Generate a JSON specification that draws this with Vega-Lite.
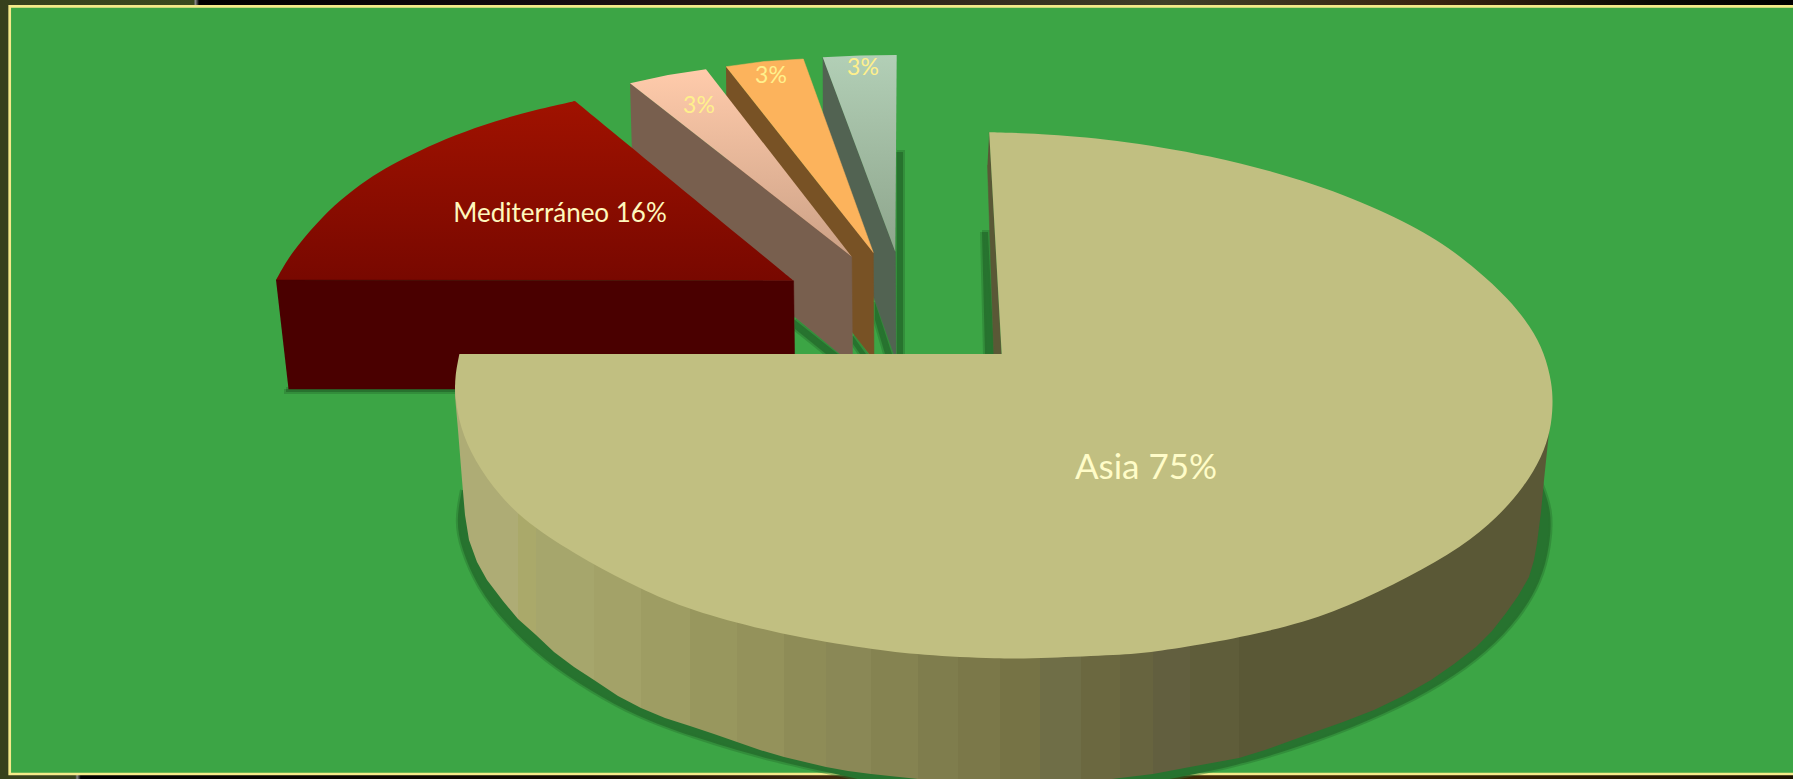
{"$schema":"https://vega.github.io/schema/vega-lite/v6.json","width":1793,"height":779,"padding":0,"autosize":"none","background":"#120c08","config":{"view":{"stroke":null}},
"datasets":{
"boxes":[{"n":"left","x":0,"x2":9,"y":0,"y2":779},{"n":"top","x":0,"x2":1793,"y":0,"y2":6},{"n":"bottom","x":0,"x2":1793,"y":774,"y2":779},{"n":"frame","x":9.7,"x2":1810,"y":6.3,"y2":774}],
"shapes":[
{"s":"sh1","i":1,"x":1540,"y":480},{"s":"sh1","i":2,"x":1552,"y":510},{"s":"sh1","i":3,"x":1550,"y":545},{"s":"sh1","i":4,"x":1541,"y":582},{"s":"sh1","i":5,"x":1519,"y":618},{"s":"sh1","i":6,"x":1488,"y":651},{"s":"sh1","i":7,"x":1443,"y":684},{"s":"sh1","i":8,"x":1385,"y":714},{"s":"sh1","i":9,"x":1318,"y":741},{"s":"sh1","i":10,"x":1234,"y":767},{"s":"sh1","i":11,"x":1166,"y":779},{"s":"sh1","i":12,"x":1100,"y":795},{"s":"sh1","i":13,"x":920,"y":795},{"s":"sh1","i":14,"x":862,"y":779},{"s":"sh1","i":15,"x":772,"y":761},{"s":"sh1","i":16,"x":690,"y":736},{"s":"sh1","i":17,"x":636,"y":716},{"s":"sh1","i":18,"x":591,"y":691},{"s":"sh1","i":19,"x":545,"y":661},{"s":"sh1","i":20,"x":505,"y":623},{"s":"sh1","i":21,"x":478,"y":588},{"s":"sh1","i":22,"x":461,"y":548},{"s":"sh1","i":23,"x":456,"y":520},{"s":"sh1","i":24,"x":462,"y":490},
{"s":"sh2","i":1,"x":982,"y":232},{"s":"sh2","i":2,"x":988,"y":232},{"s":"sh2","i":3,"x":994,"y":354},{"s":"sh2","i":4,"x":985,"y":354},{"s":"sh2","i":5,"x":982,"y":232},
{"s":"sh3","i":1,"x":897,"y":152},{"s":"sh3","i":2,"x":903,"y":152},{"s":"sh3","i":3,"x":903,"y":354},{"s":"sh3","i":4,"x":897,"y":354},{"s":"sh3","i":5,"x":897,"y":152},
{"s":"sh4","i":1,"x":795,"y":320},{"s":"sh4","i":2,"x":838,"y":354},{"s":"sh4","i":3,"x":826,"y":354},{"s":"sh4","i":4,"x":795,"y":329},{"s":"sh4","i":5,"x":795,"y":320},
{"s":"sh5","i":1,"x":853,"y":336},{"s":"sh5","i":2,"x":866,"y":354},{"s":"sh5","i":3,"x":860,"y":354},{"s":"sh5","i":4,"x":853,"y":344},{"s":"sh5","i":5,"x":853,"y":336},
{"s":"sh6","i":1,"x":875,"y":302},{"s":"sh6","i":2,"x":892,"y":354},{"s":"sh6","i":3,"x":885,"y":354},{"s":"sh6","i":4,"x":875,"y":320},{"s":"sh6","i":5,"x":875,"y":302},
{"s":"sh7","i":1,"x":286,"y":389},{"s":"sh7","i":2,"x":460,"y":389},{"s":"sh7","i":3,"x":460,"y":392},{"s":"sh7","i":4,"x":286,"y":392},{"s":"sh7","i":5,"x":286,"y":389},
{"s":"paleSide","i":1,"x":822.7,"y":57.3},{"s":"paleSide","i":2,"x":895.3,"y":251.7},{"s":"paleSide","i":3,"x":896,"y":360},{"s":"paleSide","i":4,"x":874,"y":298},{"s":"paleSide","i":5,"x":823,"y":165},
{"s":"paleTop","i":1,"x":822.7,"y":57.3},{"s":"paleTop","i":2,"x":860,"y":55.5},{"s":"paleTop","i":3,"x":896.7,"y":55},{"s":"paleTop","i":4,"x":895.3,"y":251.7},
{"s":"orangeSide","i":1,"x":726,"y":66.7},{"s":"orangeSide","i":2,"x":873.3,"y":252.7},{"s":"orangeSide","i":3,"x":874,"y":360},{"s":"orangeSide","i":4,"x":869.3,"y":354},{"s":"orangeSide","i":5,"x":852.7,"y":332.7},{"s":"orangeSide","i":6,"x":727,"y":175},
{"s":"orangeTop","i":1,"x":726,"y":66.7},{"s":"orangeTop","i":2,"x":764,"y":61.5},{"s":"orangeTop","i":3,"x":803.3,"y":59},{"s":"orangeTop","i":4,"x":873.3,"y":252.7},
{"s":"peachSide","i":1,"x":630,"y":83.3},{"s":"peachSide","i":2,"x":851.7,"y":256.7},{"s":"peachSide","i":3,"x":852.5,"y":360},{"s":"peachSide","i":4,"x":840,"y":354},{"s":"peachSide","i":5,"x":795,"y":317},{"s":"peachSide","i":6,"x":633,"y":190},
{"s":"peachTop","i":1,"x":630,"y":83.3},{"s":"peachTop","i":2,"x":668,"y":75},{"s":"peachTop","i":3,"x":706,"y":69.3},{"s":"peachTop","i":4,"x":851.7,"y":256.7},
{"s":"redFront","i":1,"x":276,"y":280},{"s":"redFront","i":2,"x":793.6,"y":280.7},{"s":"redFront","i":3,"x":795,"y":389},{"s":"redFront","i":4,"x":288.5,"y":389},
{"s":"redTop","i":0.1,"x":793.6,"y":280.7},{"s":"redTop","i":0.2,"x":793.6,"y":280.7},{"s":"redTop","i":0.3,"x":793.6,"y":280.7},{"s":"redTop","i":1.1,"x":575,"y":101},{"s":"redTop","i":1.2,"x":575,"y":101},{"s":"redTop","i":1.3,"x":575,"y":101},{"s":"redTop","i":3,"x":535,"y":110},{"s":"redTop","i":4,"x":495,"y":121},{"s":"redTop","i":5,"x":455,"y":135},{"s":"redTop","i":6,"x":418.6,"y":151},{"s":"redTop","i":7,"x":391,"y":165},{"s":"redTop","i":8,"x":367.5,"y":179},{"s":"redTop","i":9,"x":340,"y":200},{"s":"redTop","i":10,"x":316.5,"y":223},{"s":"redTop","i":11,"x":291,"y":253},{"s":"redTop","i":12.1,"x":276,"y":280},{"s":"redTop","i":12.2,"x":276,"y":280},{"s":"redTop","i":12.3,"x":276,"y":280},
{"s":"sliver","i":1,"x":989.2,"y":132.3},{"s":"sliver","i":2,"x":1001.4,"y":355},{"s":"sliver","i":3,"x":993.8,"y":355},{"s":"sliver","i":4,"x":987.5,"y":165},
{"s":"asia","i":0.1,"x":989.2,"y":132.3},{"s":"asia","i":0.2,"x":989.2,"y":132.3},{"s":"asia","i":0.3,"x":989.2,"y":132.3},{"s":"asia","i":2,"x":1037,"y":133.3},{"s":"asia","i":3,"x":1114,"y":139.3},{"s":"asia","i":4,"x":1210,"y":155},{"s":"asia","i":5,"x":1305,"y":180},{"s":"asia","i":6,"x":1382,"y":210},{"s":"asia","i":7,"x":1439,"y":240},{"s":"asia","i":8,"x":1477.5,"y":270},{"s":"asia","i":9,"x":1508,"y":298},{"s":"asia","i":10,"x":1531,"y":327},{"s":"asia","i":11,"x":1544.5,"y":353},{"s":"asia","i":12,"x":1552,"y":383},{"s":"asia","i":13,"x":1553,"y":405},{"s":"asia","i":14,"x":1550.7,"y":430},{"s":"asia","i":15,"x":1542,"y":457},{"s":"asia","i":16,"x":1524,"y":487},{"s":"asia","i":17,"x":1498,"y":517},{"s":"asia","i":18,"x":1462,"y":547},{"s":"asia","i":19,"x":1409,"y":577},{"s":"asia","i":20,"x":1347.5,"y":607},{"s":"asia","i":21,"x":1290,"y":627},{"s":"asia","i":22,"x":1206,"y":644},{"s":"asia","i":23,"x":1153,"y":652},{"s":"asia","i":24,"x":1120,"y":655},{"s":"asia","i":25,"x":1045,"y":658},{"s":"asia","i":26,"x":1000,"y":659},{"s":"asia","i":27,"x":920,"y":655},{"s":"asia","i":28,"x":871,"y":649},{"s":"asia","i":29,"x":782,"y":635},{"s":"asia","i":30,"x":688,"y":610},{"s":"asia","i":31,"x":639,"y":588},{"s":"asia","i":32,"x":590,"y":563},{"s":"asia","i":33,"x":532,"y":527},{"s":"asia","i":34,"x":500,"y":497},{"s":"asia","i":35,"x":474,"y":460},{"s":"asia","i":36,"x":460,"y":427},{"s":"asia","i":37,"x":455,"y":397},{"s":"asia","i":38,"x":454.8,"y":377},{"s":"asia","i":39.1,"x":459.4,"y":354},{"s":"asia","i":39.2,"x":459.4,"y":354},{"s":"asia","i":39.3,"x":459.4,"y":354},{"s":"asia","i":40.1,"x":1001.7,"y":354},{"s":"asia","i":40.2,"x":1001.7,"y":354},{"s":"asia","i":40.3,"x":1001.7,"y":354}
],
"wall":[
{"b":"b01","i":1,"x":455,"y":384},{"b":"b01","i":2,"x":518,"y":507},{"b":"b01","i":3,"x":518,"y":619},{"b":"b01","i":4,"x":503,"y":601},{"b":"b01","i":5,"x":487,"y":580},{"b":"b01","i":6,"x":477,"y":562},{"b":"b01","i":7,"x":469,"y":540},{"b":"b01","i":8,"x":465,"y":515},{"b":"b01","i":9,"x":462,"y":480},{"b":"b01","i":10,"x":458,"y":430},{"b":"b01","i":11,"x":455,"y":396},
{"b":"b02","i":1,"x":518,"y":507},{"b":"b02","i":2,"x":536,"y":522},{"b":"b02","i":3,"x":536,"y":635},{"b":"b02","i":4,"x":518,"y":619},
{"b":"b03","i":1,"x":536,"y":522},{"b":"b03","i":2,"x":594,"y":557},{"b":"b03","i":3,"x":594,"y":680},{"b":"b03","i":4,"x":574,"y":667},{"b":"b03","i":5,"x":554,"y":652},{"b":"b03","i":6,"x":536,"y":635},
{"b":"b04","i":1,"x":594,"y":557},{"b":"b04","i":2,"x":641,"y":581},{"b":"b04","i":3,"x":641,"y":708},{"b":"b04","i":4,"x":618,"y":696},{"b":"b04","i":5,"x":594,"y":680},
{"b":"b05","i":1,"x":641,"y":581},{"b":"b05","i":2,"x":690,"y":603},{"b":"b05","i":3,"x":690,"y":726},{"b":"b05","i":4,"x":665,"y":718},{"b":"b05","i":5,"x":641,"y":708},
{"b":"b06","i":1,"x":690,"y":603},{"b":"b06","i":2,"x":737,"y":616},{"b":"b06","i":3,"x":737,"y":742},{"b":"b06","i":4,"x":714,"y":734},{"b":"b06","i":5,"x":690,"y":726},
{"b":"b07","i":1,"x":737,"y":616},{"b":"b07","i":2,"x":784,"y":628},{"b":"b07","i":3,"x":784,"y":757},{"b":"b07","i":4,"x":760,"y":750},{"b":"b07","i":5,"x":737,"y":742},
{"b":"b08","i":1,"x":784,"y":628},{"b":"b08","i":2,"x":826,"y":635},{"b":"b08","i":3,"x":826,"y":767},{"b":"b08","i":4,"x":805,"y":762},{"b":"b08","i":5,"x":784,"y":757},
{"b":"b09","i":1,"x":826,"y":635},{"b":"b09","i":2,"x":871,"y":641},{"b":"b09","i":3,"x":871,"y":774},{"b":"b09","i":4,"x":848,"y":771},{"b":"b09","i":5,"x":826,"y":767},
{"b":"b10","i":1,"x":871,"y":641},{"b":"b10","i":2,"x":918,"y":647},{"b":"b10","i":3,"x":918,"y":779},{"b":"b10","i":4,"x":871,"y":774},
{"b":"b11","i":1,"x":918,"y":647},{"b":"b11","i":2,"x":958,"y":649},{"b":"b11","i":3,"x":958,"y":785},{"b":"b11","i":4,"x":918,"y":779},
{"b":"b12","i":1,"x":958,"y":649},{"b":"b12","i":2,"x":1000,"y":651},{"b":"b12","i":3,"x":1000,"y":790},{"b":"b12","i":4,"x":958,"y":785},
{"b":"b13","i":1,"x":1000,"y":651},{"b":"b13","i":2,"x":1040,"y":650},{"b":"b13","i":3,"x":1040,"y":787},{"b":"b13","i":4,"x":1000,"y":790},
{"b":"b14","i":1,"x":1040,"y":650},{"b":"b14","i":2,"x":1081,"y":649},{"b":"b14","i":3,"x":1081,"y":783},{"b":"b14","i":4,"x":1040,"y":787},
{"b":"b15","i":1,"x":1081,"y":649},{"b":"b15","i":2,"x":1120,"y":647},{"b":"b15","i":3,"x":1120,"y":778},{"b":"b15","i":4,"x":1081,"y":783},
{"b":"b16","i":1,"x":1120,"y":647},{"b":"b16","i":2,"x":1153,"y":644},{"b":"b16","i":3,"x":1153,"y":774},{"b":"b16","i":4,"x":1120,"y":778},
{"b":"b17","i":1,"x":1153,"y":644},{"b":"b17","i":2,"x":1190,"y":639},{"b":"b17","i":3,"x":1190,"y":767},{"b":"b17","i":4,"x":1153,"y":774},
{"b":"b18","i":1,"x":1190,"y":639},{"b":"b18","i":2,"x":1239,"y":628},{"b":"b18","i":3,"x":1239,"y":758},{"b":"b18","i":4,"x":1190,"y":767},
{"b":"b19","i":1,"x":1239,"y":628},{"b":"b19","i":2,"x":1551,"y":413},{"b":"b19","i":3,"x":1544,"y":480},{"b":"b19","i":4,"x":1541,"y":512},{"b":"b19","i":5,"x":1537,"y":543},{"b":"b19","i":6,"x":1534,"y":560},{"b":"b19","i":7,"x":1529,"y":577},{"b":"b19","i":8,"x":1518,"y":596},{"b":"b19","i":9,"x":1506,"y":613},{"b":"b19","i":10,"x":1492,"y":631},{"b":"b19","i":11,"x":1476,"y":647},{"b":"b19","i":12,"x":1454,"y":664},{"b":"b19","i":13,"x":1431,"y":680},{"b":"b19","i":14,"x":1403,"y":696},{"b":"b19","i":15,"x":1374,"y":710},{"b":"b19","i":16,"x":1343,"y":722},{"b":"b19","i":17,"x":1312,"y":733},{"b":"b19","i":18,"x":1290,"y":741},{"b":"b19","i":19,"x":1265,"y":750},{"b":"b19","i":20,"x":1239,"y":758}
]
},
"encoding":{"x":{"field":"x","type":"quantitative","scale":{"domain":[0,1793],"nice":false,"zero":false},"axis":null},"y":{"field":"y","type":"quantitative","scale":{"domain":[779,0],"nice":false,"zero":false},"axis":null},"order":{"field":"i","type":"quantitative"}},
"layer":[
{"data":{"name":"boxes"},"transform":[{"filter":"datum.n==='left'"}],"mark":{"type":"rect","fill":"#37401c"},"encoding":{"x2":{"field":"x2"},"y2":{"field":"y2"},"order":null}},
{"data":{"name":"boxes"},"transform":[{"filter":"datum.n==='top'"}],"mark":{"type":"rect","fill":{"gradient":"linear","x1":0,"y1":0,"x2":1,"y2":0,"stops":[{"offset":0,"color":"#37401c"},{"offset":0.108,"color":"#3a4a1e"},{"offset":0.109,"color":"#888888"},{"offset":0.111,"color":"#000000"},{"offset":0.3,"color":"#120a10"},{"offset":0.45,"color":"#2a1a14"},{"offset":0.65,"color":"#3f3f28"},{"offset":0.8,"color":"#3a2410"},{"offset":0.92,"color":"#0a0a05"},{"offset":1,"color":"#000000"}]}},"encoding":{"x2":{"field":"x2"},"y2":{"field":"y2"},"order":null}},
{"data":{"name":"boxes"},"transform":[{"filter":"datum.n==='bottom'"}],"mark":{"type":"rect","fill":{"gradient":"linear","x1":0,"y1":0,"x2":1,"y2":0,"stops":[{"offset":0,"color":"#37401c"},{"offset":0.042,"color":"#37401c"},{"offset":0.043,"color":"#888888"},{"offset":0.045,"color":"#000000"},{"offset":0.33,"color":"#120a00"},{"offset":0.5,"color":"#4a3010"},{"offset":0.75,"color":"#3a2500"},{"offset":1,"color":"#1a1000"}]}},"encoding":{"x2":{"field":"x2"},"y2":{"field":"y2"},"order":null}},
{"data":{"name":"boxes"},"transform":[{"filter":"datum.n==='frame'"}],"mark":{"type":"rect","fill":"#3ca545","stroke":"#f5ea8a","strokeWidth":2.7,"clip":true},"encoding":{"x2":{"field":"x2"},"y2":{"field":"y2"},"order":null}},
{"data":{"name":"shapes"},"transform":[{"filter":"datum.s==='sh1'"}],"mark":{"type":"line","interpolate":"basis","fill":"#27732f","stroke":"#27732f","strokeWidth":4,"strokeOpacity":0.45,"clip":true}},
{"data":{"name":"shapes"},"transform":[{"filter":"datum.s==='sh2'||datum.s==='sh3'||datum.s==='sh4'||datum.s==='sh5'||datum.s==='sh6'||datum.s==='sh7'"}],"mark":{"type":"line","fill":"#27732f","stroke":"#27732f","strokeWidth":4,"strokeOpacity":0.45,"clip":true},"encoding":{"detail":{"field":"s"}}},
{"data":{"name":"shapes"},"transform":[{"filter":"datum.s==='paleSide'"}],"mark":{"type":"line","fill":"#526352","stroke":"#526352","strokeWidth":0.5,"clip":true}},
{"data":{"name":"shapes"},"transform":[{"filter":"datum.s==='paleTop'"}],"mark":{"type":"line","strokeWidth":0,"clip":true,"fill":{"gradient":"linear","x1":0,"y1":0,"x2":0,"y2":1,"stops":[{"offset":0,"color":"#b2cfb6"},{"offset":1,"color":"#8ea58c"}]}}},
{"data":{"name":"shapes"},"transform":[{"filter":"datum.s==='orangeSide'"}],"mark":{"type":"line","fill":"#785225","stroke":"#785225","strokeWidth":0.5,"clip":true}},
{"data":{"name":"shapes"},"transform":[{"filter":"datum.s==='orangeTop'"}],"mark":{"type":"line","fill":"#fcb35c","stroke":"#fcb35c","strokeWidth":0.5,"clip":true}},
{"data":{"name":"shapes"},"transform":[{"filter":"datum.s==='peachSide'"}],"mark":{"type":"line","fill":"#785f4e","stroke":"#785f4e","strokeWidth":0.5,"clip":true}},
{"data":{"name":"shapes"},"transform":[{"filter":"datum.s==='peachTop'"}],"mark":{"type":"line","strokeWidth":0,"clip":true,"fill":{"gradient":"linear","x1":0,"y1":0,"x2":0,"y2":1,"stops":[{"offset":0,"color":"#ffcbab"},{"offset":1,"color":"#cca186"}]}}},
{"data":{"name":"shapes"},"transform":[{"filter":"datum.s==='redTop'"}],"mark":{"type":"line","interpolate":"basis","strokeWidth":0,"clip":true,"fill":{"gradient":"linear","x1":0,"y1":0,"x2":0,"y2":1,"stops":[{"offset":0,"color":"#a01200"},{"offset":1,"color":"#780800"}]}}},
{"data":{"name":"shapes"},"transform":[{"filter":"datum.s==='redFront'"}],"mark":{"type":"line","fill":"#4a0000","stroke":"#4a0000","strokeWidth":0.5,"clip":true}},
{"data":{"name":"wall"},"mark":{"type":"line","strokeWidth":0,"clip":true},"encoding":{"fill":{"field":"b","type":"nominal","legend":null,"scale":{"domain":["b01","b02","b03","b04","b05","b06","b07","b08","b09","b10","b11","b12","b13","b14","b15","b16","b17","b18","b19"],"range":["#aeac75","#aaa96a","#a6a66c","#a3a268","#9e9d63","#98975e","#94925b","#8e8c57","#8a8856","#858351","#7f7d4d","#7b7849","#767345","#6f6e47","#6b6840","#67643f","#625f3f","#5f5d3a","#5a5836"]}}}},
{"data":{"name":"shapes"},"transform":[{"filter":"datum.s==='sliver'"}],"mark":{"type":"line","fill":"#5a5836","stroke":"#5a5836","strokeWidth":0.5,"clip":true}},
{"data":{"name":"shapes"},"transform":[{"filter":"datum.s==='asia'"}],"mark":{"type":"line","interpolate":"basis","fill":"#c1bf81","strokeWidth":0,"clip":true}},
{"data":{"values":[{"t":"Mediterráneo 16%","x":560,"y":214}]},"mark":{"type":"text","font":"Lato","fontSize":26,"color":"#fff8bd","align":"center","baseline":"middle"},"encoding":{"text":{"field":"t"},"order":null}},
{"data":{"values":[{"t":"Asia 75%","x":1146,"y":468}]},"mark":{"type":"text","font":"Lato","fontSize":35,"color":"#fffcc8","align":"center","baseline":"middle"},"encoding":{"text":{"field":"t"},"order":null}},
{"data":{"values":[{"t":"3%","x":699,"y":106},{"t":"3%","x":771,"y":76},{"t":"3%","x":863,"y":68}]},"mark":{"type":"text","font":"Lato","fontSize":23,"color":"#fff08c","align":"center","baseline":"middle"},"encoding":{"text":{"field":"t"},"order":null}}
]}
